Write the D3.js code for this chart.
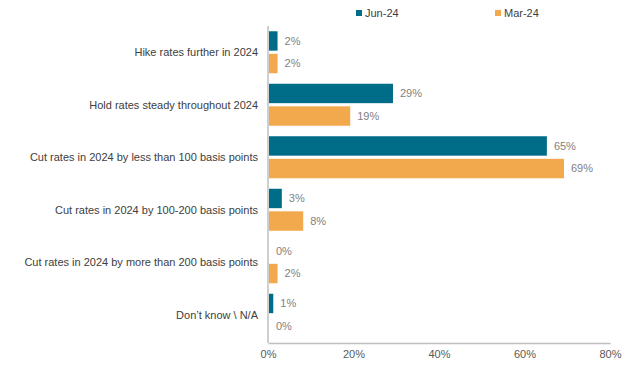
<!DOCTYPE html>
<html>
<head>
<meta charset="utf-8">
<script src="https://cdn.jsdelivr.net/npm/d3@7"></script>
<style>
  body{margin:0;background:#fff;}
  svg text{font-family:"Liberation Sans",Arial,sans-serif;}
</style>
</head>
<body>
<div id="chart"></div>
<script>
// survey answers, top to bottom
var categories=[
    'Hike rates further in 2024',
    'Hold rates steady throughout 2024',
    'Cut rates in 2024 by less than 100 basis points',
    'Cut rates in 2024 by 100-200 basis points',
    'Cut rates in 2024 by more than 200 basis points',
    'Don\u2019t know \\ N/A'
];
var seriesNames=['Jun-24','Mar-24'];
var jun24=[2,29,65,3,0,1];
var mar24=[2,19,69,8,2,0];
var xTicks=[0,20,40,60,80];

var width=637, height=365;
var margin={top:26, right:27, bottom:22, left:268};
var colors={'Jun-24':'#006d88','Mar-24':'#f2a84c'};
var fontSize='11px';

var svg=d3.select('#chart').append('svg')
    .attr('width',width)
    .attr('height',height);

var x=d3.scaleLinear().domain([0,80]).range([margin.left,width-margin.right]);
var y=d3.scaleBand().domain(categories)
    .range([margin.top,height-margin.bottom-2])
    .paddingInner(0.2).paddingOuter(0.1);
var ySub=d3.scaleBand().domain(seriesNames).range([0,y.bandwidth()]).paddingInner(0.14);

var rows=categories.map(function(c,i){
    return {cat:c, values:[{s:'Jun-24',v:jun24[i]},{s:'Mar-24',v:mar24[i]}]};
});

// x axis
var xAxis=svg.append('g')
    .attr('transform','translate(0,'+(height-margin.bottom)+')')
    .call(d3.axisBottom(x).tickValues(xTicks).tickSize(0).tickPadding(7)
        .tickFormat(function(d){return d+'%';}));
xAxis.select('.domain').attr('stroke','#bfbfbf').attr('stroke-width',1.5);
xAxis.selectAll('text').attr('fill','#595959').style('font-size',fontSize);

// y axis line
svg.append('line')
    .attr('x1',x(0)).attr('x2',x(0))
    .attr('y1',margin.top).attr('y2',height-margin.bottom)
    .attr('stroke','#bfbfbf').attr('stroke-width',1.5);

// category labels
svg.append('g').selectAll('text')
    .data(categories).enter().append('text')
    .attr('x',x(0)-10)
    .attr('y',function(d){return y(d)+y.bandwidth()/2;})
    .attr('dy','0.35em')
    .attr('text-anchor','end')
    .attr('fill','#404040')
    .style('font-size',fontSize)
    .text(function(d){return d;});

var groups=svg.append('g').selectAll('g')
    .data(rows).enter().append('g')
    .attr('transform',function(d){return 'translate(0,'+y(d.cat)+')';});

groups.selectAll('rect')
    .data(function(d){return d.values;}).enter().append('rect')
    .attr('x',x(0)+1)
    .attr('y',function(d){return ySub(d.s);})
    .attr('width',function(d){return Math.max(0,x(d.v)-x(0));})
    .attr('height',ySub.bandwidth())
    .attr('fill',function(d){return colors[d.s];});

groups.selectAll('text')
    .data(function(d){return d.values;}).enter().append('text')
    .attr('x',function(d){return x(d.v)+8;})
    .attr('y',function(d){return ySub(d.s)+ySub.bandwidth()/2;})
    .attr('dy','0.35em')
    .attr('fill','#7f7f7f')
    .style('font-size',fontSize)
    .text(function(d){return d.v+'%';});

// legend
var legendX={'Jun-24':356,'Mar-24':495};
var legend=svg.append('g').selectAll('g')
    .data(seriesNames).enter().append('g')
    .attr('transform',function(d){return 'translate('+legendX[d]+',9)';});
legend.append('rect')
    .attr('width',6).attr('height',6).attr('y',1)
    .attr('fill',function(d){return colors[d];});
legend.append('text')
    .attr('x',9).attr('y',4).attr('dy','0.35em')
    .attr('fill','#404040')
    .style('font-size',fontSize)
    .text(function(d){return d;});
</script>
</body>
</html>
